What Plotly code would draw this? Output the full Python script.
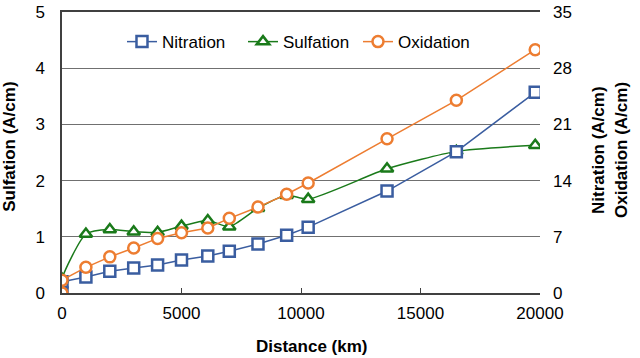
import plotly.graph_objects as go

distance = [0, 0, 1000, 2000, 3000, 4000, 5000, 6100, 7000, 8200, 9400, 10300, 13600, 16500, 19800]
nitration = [0, 1.4, 2.0, 2.7, 3.1, 3.5, 4.1, 4.6, 5.2, 6.1, 7.2, 8.2, 12.7, 17.6, 25.0]
sulfation = [0, 0.25, 1.05, 1.13, 1.09, 1.08, 1.19, 1.29, 1.18, 1.51, 1.74, 1.67, 2.21, 2.52, 2.63]
oxidation = [0, 1.6, 3.2, 4.5, 5.6, 6.8, 7.5, 8.1, 9.3, 10.7, 12.3, 13.7, 19.2, 24.0, 30.3]

x_ticks = [0, 5000, 10000, 15000, 20000]
y_ticks = [0, 1, 2, 3, 4, 5]
y2_ticks = [0, 7, 14, 21, 28, 35]

BLUE = "#3A5DA0"
GREEN = "#1A7A1A"
ORANGE = "#ED7D31"
FONT = "Liberation Sans, Arial, sans-serif"

fig = go.Figure()
fig.add_trace(go.Scatter(
    x=distance, y=nitration, name="Nitration", yaxis="y2", mode="lines+markers", legend="legend",
    line=dict(color=BLUE, width=1.5),
    marker=dict(symbol="square", size=11, color="white", line=dict(width=2.5, color=BLUE))))
fig.add_trace(go.Scatter(
    x=distance, y=sulfation, name="Sulfation", yaxis="y", mode="lines+markers", legend="legend2",
    line=dict(color=GREEN, width=1.5, shape="spline", smoothing=0.6),
    marker=dict(symbol="triangle-up", size=11, color="white", line=dict(width=2.5, color=GREEN))))
fig.add_trace(go.Scatter(
    x=distance, y=oxidation, name="Oxidation", yaxis="y2", mode="lines+markers", legend="legend3",
    line=dict(color=ORANGE, width=1.5),
    marker=dict(symbol="circle", size=11, color="white", line=dict(width=2.5, color=ORANGE))))

leg = dict(orientation="h", xanchor="left", y=0.893, yanchor="middle",
           bgcolor="rgba(0,0,0,0)", font=dict(size=17, family=FONT, color="#000"), itemwidth=30)

title_font = dict(size=17, family=FONT, color="#000")

fig.update_layout(
    width=640, height=358,
    margin=dict(l=62, r=100, t=12, b=65, autoexpand=False),
    paper_bgcolor="white", plot_bgcolor="white",
    font=dict(family=FONT, size=17, color="#000000"),
    showlegend=True,
    legend=dict(leg, x=0.1255),
    legend2=dict(leg, x=0.3787),
    legend3=dict(leg, x=0.6192),
    xaxis=dict(range=[0, 20000], tickvals=x_ticks, ticktext=[str(v) for v in x_ticks],
               showgrid=False, zeroline=False,
               showline=True, linecolor="#404040", linewidth=1.5, mirror=True,
               ticks="inside", ticklen=5, tickcolor="#404040", ticklabelstandoff=4,
               automargin=False),
    yaxis=dict(range=[0, 5], tickvals=y_ticks, showgrid=True, gridcolor="#707070", gridwidth=1,
               zeroline=False, showline=True, linecolor="#404040", linewidth=1.5,
               ticks="", ticklabelstandoff=12, automargin=False),
    yaxis2=dict(range=[0, 35], tickvals=y2_ticks, overlaying="y", side="right", showgrid=False,
                zeroline=False, showline=False, ticks="", ticklabelstandoff=12, automargin=False),
    annotations=[
        dict(text="<b>Distance (km)</b>", xref="paper", yref="paper", x=0.523, y=-0.189,
             xanchor="center", yanchor="middle", showarrow=False, font=title_font),
        dict(text="<b>Sulfation (A/cm)</b>", xref="paper", yref="paper", x=-0.109, y=0.52,
             xanchor="center", yanchor="middle", textangle=-90, showarrow=False, font=title_font),
        dict(text="<b>Nitration (A/cm)</b>", xref="paper", yref="paper", x=1.1234, y=0.509,
             xanchor="center", yanchor="middle", textangle=-90, showarrow=False, font=title_font),
        dict(text="<b>Oxidation (A/cm)</b>", xref="paper", yref="paper", x=1.1715, y=0.509,
             xanchor="center", yanchor="middle", textangle=-90, showarrow=False, font=title_font),
    ],
)

fig.write_html("out.html", config={"displayModeBar": False},
               post_script="document.body.style.margin='0';document.body.style.padding='0';")
